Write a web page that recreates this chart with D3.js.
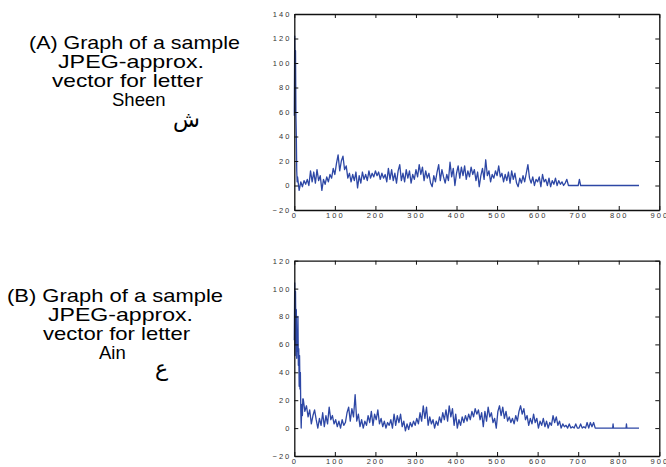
<!DOCTYPE html>
<html>
<head>
<meta charset="utf-8">
<script src="https://cdn.jsdelivr.net/npm/d3@7"></script>
<style>
body{margin:0;background:#fff}
svg{display:block}
.tick text{font-family:"Liberation Sans",Arial,sans-serif;font-size:7.5px;letter-spacing:2px;fill:#333}
.cap{font-family:"Liberation Sans",Arial,sans-serif;font-size:18.5px;fill:#000}
</style>
</head>
<body>
<div id="chart"></div>
<script>

var xTicks=[0,100,200,300,400,500,600,700,800,900]
var sheenYTicks=[-20,0,20,40,60,80,100,120,140]
var ainYTicks=[-20,0,20,40,60,80,100,120]

// (A) sheen : first samples one by one, then every 4th sample, then the flat end
var sheenHead=[57,122,60,110,57,40,12,3]
var sheenStart=8, sheenStep=4
var sheenBody=[7,-4,3,-1,4,1,5,0,12,3,11,2,13,4,8,-4,5,1,7,3,
	9,6,14,9,18,25,12,20,24,13,16,6,10,3,9,4,11,-2,8,2,
	11,5,9,4,12,6,10,7,12,8,11,5,10,6,9,3,14,5,13,4,
	10,2,12,17,4,10,3,13,6,12,2,9,5,13,7,17,9,15,4,12,
	6,10,2,-1,8,3,11,17,4,13,7,2,9,4,19,7,14,0,10,16,
	6,15,8,16,5,12,7,15,9,13,4,11,-1,8,14,5,21,8,12,3,
	9,6,12,8,16,7,10,3,9,4,11,2,12,5,10,2,-1,6,2,8,
	3,10,17,6,2,7,0,5,3,7,-1,9,3,5,0,6,-1,4,1,6,
	0,4,1,3,0,2,5,0]
var sheenTailX=[680,700,703,706,850]
var sheenTailY=[0,0,5,0,0]

// (B) ain
var ainHead=[63,104,52,98,60,85,50,65,55,80,45,57,30,52,28,40,12,0,11,17,9,21]
var ainStart=22, ainStep=4
var ainBody=[21,12,16,8,13,3,9,13,6,0,7,2,11,1,9,3,15,6,9,3,
	6,1,5,0,6,2,4,11,15,5,14,8,24,5,10,1,6,0,5,2,
	9,4,12,2,10,6,13,3,7,1,5,0,4,2,6,0,10,2,9,4,
	10,1,5,-2,3,-1,4,1,5,2,7,3,11,5,16,7,15,2,8,3,
	6,0,5,2,8,4,11,6,13,5,16,8,14,2,10,0,6,2,8,4,
	9,5,10,6,12,8,14,10,13,6,11,1,12,5,15,8,11,4,7,0,
	12,16,9,15,7,12,5,8,4,7,3,9,5,12,16,10,14,6,9,2,
	7,3,10,4,7,0,5,2,7,1,5,0,4,2,9,4,8,2,5,0,
	3,1,2,0,3,0,1,0,3,0,0,3,0,1,0,4,0,4,1,4,
	0,0]
var ainTailX=[746,785,786,787,818,819,820,850]
var ainTailY=[0,0,3,0,0,3,0,0]


function series(head,start,step,body,tailX,tailY)
{
	var pts=[]
	for(i=0;i<head.length;i++)
		pts.push({"a":i,"b":head[i]})
	for(i=0;i<body.length;i++)
		pts.push({"a":start+i*step,"b":body[i]})
	for(i=0;i<tailX.length;i++)
		pts.push({"a":tailX[i],"b":tailY[i]})
	return pts
}


var svg=d3.select("#chart").append("svg")
		.attr("width",666)
		.attr("height",467)


function panel(data,yTicks,top,bottom)
{
	var xScale=d3.scaleLinear().domain([0,900]).range([294.3,659.3])
	var yScale=d3.scaleLinear().domain([yTicks[0],yTicks[yTicks.length-1]]).range([bottom,top])

	var g=svg.append("g")

	var line=d3.line()
			.x(function(d){return xScale(d.a)})
			.y(function(d){return yScale(d.b)})

	g.append("path")
		.datum(data)
		.attr("d",line)
		.attr("fill","none")
		.attr("stroke","#2d47a5")
		.attr("stroke-width",1.3)
		.attr("stroke-linejoin","round")

	var asse_x=d3.axisBottom(xScale).tickValues(xTicks).tickSize(-4).tickSizeOuter(0).tickPadding(2.5)
	var asse_x_top=d3.axisTop(xScale).tickValues(xTicks).tickSize(-4).tickSizeOuter(0).tickFormat("")
	var asse_y=d3.axisLeft(yScale).tickValues(yTicks).tickSize(-4).tickSizeOuter(0).tickPadding(3)
	var asse_y_right=d3.axisRight(yScale).tickValues(yTicks).tickSize(-4).tickSizeOuter(0).tickFormat("")

	g.append("g").attr("transform","translate(0,"+bottom+")").call(asse_x)
	g.append("g").attr("transform","translate(0,"+top+")").call(asse_x_top)
	g.append("g").attr("transform","translate(294.3,0)").call(asse_y)
	g.append("g").attr("transform","translate(659.3,0)").call(asse_y_right)

	g.selectAll(".domain").attr("stroke","#111").attr("stroke-width",1.3)
	g.selectAll(".tick line").attr("stroke","#111").attr("stroke-width",1)
	g.selectAll(".tick text").attr("font-size",null).attr("font-family",null)
}

panel(series(sheenHead,sheenStart,sheenStep,sheenBody,sheenTailX,sheenTailY),sheenYTicks,14,210)
panel(series(ainHead,ainStart,ainStep,ainBody,ainTailX,ainTailY),ainYTicks,260.7,456)


// captions on the left
function caption(x,y,w,txt)
{
	var t=svg.append("text")
		.attr("class","cap")
		.attr("x",x)
		.attr("y",y)
		.text(txt)
	if(w)
		t.attr("textLength",w).attr("lengthAdjust","spacingAndGlyphs")
}

caption(29,49,211,"(A) Graph of a sample")
caption(58,68,146,"JPEG-approx.")
caption(52,87,151,"vector for letter")
caption(112,106,0,"Sheen")
svg.append("text").attr("x",173).attr("y",127)
	.attr("font-family","DejaVu Sans").attr("font-size",22).text("ش")

caption(7,302,216,"(B) Graph of a sample")
caption(48,321,145,"JPEG-approx.")
caption(43,340,147,"vector for letter")
caption(99,359,0,"Ain")
svg.append("text").attr("x",155).attr("y",376)
	.attr("font-family","DejaVu Sans").attr("font-size",22).text("ع")

</script>
</body>
</html>
